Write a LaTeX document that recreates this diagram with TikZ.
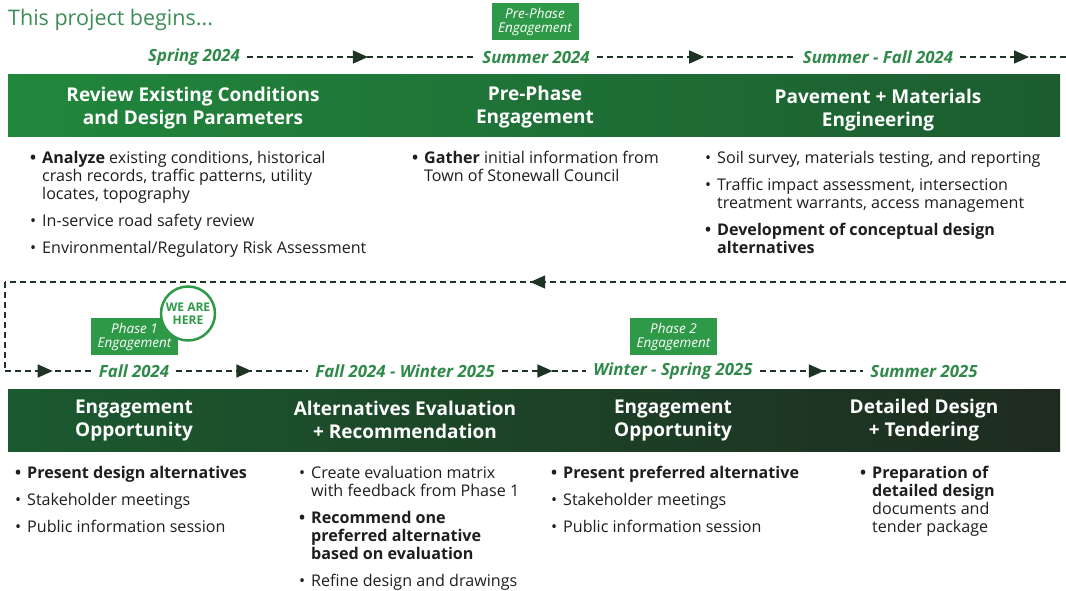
\documentclass[tikz,border=0pt]{standalone}
\usepackage{fontspec}
\setmainfont{Open Sans}
\usetikzlibrary{arrows.meta,decorations.markings}

\definecolor{tagGreen}{HTML}{2E9A48}
\definecolor{labelGreen}{HTML}{2F8A4A}
\definecolor{headGreen}{HTML}{3C8C55}
\definecolor{topL}{HTML}{21873C}
\definecolor{topR}{HTML}{1C5C30}
\definecolor{botL}{HTML}{1B5A2F}
\definecolor{botR}{HTML}{1E2B1F}
\definecolor{lineDark}{HTML}{1F3324}
\definecolor{bodyText}{HTML}{1E1E1E}

% bullets with a hanging indent
\newcommand\bu{\makebox[12pt][l]{\textbullet}}
\newcommand\bbu{\makebox[12pt][l]{\bfseries\textbullet}}
\newcommand\ind{\hspace*{12pt}}

\tikzset{
  band/.style={rectangle, inner sep=0pt, minimum width=1052pt, minimum height=62pt, draw=none},
  bandtitle/.style={align=center, text=white, inner sep=0pt,
    font=\fontsize{19}{23}\selectfont\bfseries},
  period/.style={text=labelGreen, inner xsep=7pt, inner ysep=0pt,
    font=\fontsize{16.8}{18}\selectfont\bfseries\itshape},
  tagbox/.style={fill=tagGreen, text=white, align=center, inner sep=0pt,
    minimum width=87pt, minimum height=37pt,
    font=\fontsize{13.5}{14}\selectfont\itshape},
  bodylist/.style={anchor=north west, align=left, inner sep=0pt, text=bodyText,
    font=\fontsize{16.1}{18}\selectfont},
  tl/.style={draw=lineDark, line width=1.4pt, dash pattern=on 6pt off 4pt},
  tlarrow/.style={postaction={decorate, decoration={markings,
    mark=at position #1 with {\arrow[lineDark, solid]{Triangle[length=15pt, width=13pt]}}}}}
}

\begin{document}
\begin{tikzpicture}[x=1pt, y=-1pt]
\fill[white] (0,0) rectangle (1066,591);
\useasboundingbox (0,0) rectangle (1066,591);

% heading
\node[anchor=west, inner sep=0pt, text=headGreen, font=\fontsize{21.5}{24}\selectfont]
  (head) at (8,20) {This project begins...};

% ---------- top timeline ----------
\node[tagbox] (pretag) at (535,22) {Pre-Phase\\Engagement};

\node[period] (spring)  at (194,57) {Spring 2024};
\node[period] (summer)  at (536,57) {Summer 2024};
\node[period] (sumfall) at (878,57) {Summer - Fall 2024};
\coordinate (topend) at (1066,57);

\draw[tl, tlarrow=0.53] (spring) -- (summer);
\draw[tl, tlarrow=0.54] (summer) -- (sumfall);
\draw[tl, tlarrow=0.65] (sumfall) -- (topend);

% top band
\node[band, left color=topL, right color=topR] (topband) at (534,106) {};
\node[bandtitle] (t1) at (193,108) {Review Existing Conditions\\and Design Parameters};
\node[bandtitle] (t2) at (535,107) {Pre-Phase\\Engagement};
\node[bandtitle] (t3) at (878,110) {Pavement + Materials\\Engineering};

% top lists
\node[bodylist] (l1) at (30,151) {%
  \bbu\textbf{Analyze} existing conditions, historical\\
  \ind crash records, traffic patterns, utility\\
  \ind locates, topography\\[9pt]
  \bu In-service road safety review\\[9pt]
  \bu Environmental/Regulatory Risk Assessment};
\node[bodylist] (l2) at (412,151) {%
  \bbu\textbf{Gather} initial information from\\
  \ind Town of Stonewall Council};
\node[bodylist] (l3) at (705,151) {%
  \bu Soil survey, materials testing, and reporting\\[9pt]
  \bu Traffic impact assessment, intersection\\
  \ind treatment warrants, access management\\[9pt]
  \bbu\textbf{Development of conceptual design}\\
  \ind\textbf{alternatives}};

% ---------- return path ----------
\coordinate (retR) at (1066,282);
\coordinate (retL) at (5,282);
\coordinate (retD) at (5,371);

% ---------- bottom timeline ----------
\node[tagbox] (p1tag) at (134.5,336.5) {Phase 1\\Engagement};
\node[tagbox] (p2tag) at (673.5,336.5) {Phase 2\\Engagement};
\node[circle, fill=white, draw=tagGreen, line width=2.5pt, minimum size=54pt,
  inner sep=0pt, align=center, text=tagGreen,
  font=\fontsize{12}{13.5}\selectfont\bfseries] (here) at (188,313.5) {WE ARE\\HERE};

\node[period] (fall) at (134,371) {Fall 2024};
\node[period] (fw)   at (405,371) {Fall 2024 - Winter 2025};
\node[period] (ws)   at (673,371) {Winter - Spring 2025};
\node[period] (su)   at (924,371) {Summer 2025};

\draw[tl, tlarrow=0.505] (retR) -- (retL);
\draw[tl] (retL) -- (retD);
\draw[tl, tlarrow=0.55] (retD) -- (fall);
\draw[tl, tlarrow=0.57] (fall) -- (fw);
\draw[tl, tlarrow=0.6] (fw) -- (ws);
\draw[tl, tlarrow=0.62] (ws) -- (su);

% bottom band
\node[band, left color=botL, right color=botR] (botband) at (534,420) {};
\node[bandtitle] (b1) at (134,420) {Engagement\\Opportunity};
\node[bandtitle] (b2) at (405,420) {Alternatives Evaluation\\+ Recommendation};
\node[bandtitle] (b3) at (673,420) {Engagement\\Opportunity};
\node[bandtitle] (b4) at (924,420) {Detailed Design\\+ Tendering};

% bottom lists
\node[bodylist] (m1) at (15,466) {%
  \bbu\textbf{Present design alternatives}\\[9pt]
  \bu Stakeholder meetings\\[9pt]
  \bu Public information session};
\node[bodylist] (m2) at (299,466) {%
  \bu Create evaluation matrix\\
  \ind with feedback from Phase 1\\[9pt]
  \bbu\textbf{Recommend one}\\
  \ind\textbf{preferred alternative}\\
  \ind\textbf{based on evaluation}\\[9pt]
  \bu Refine design and drawings};
\node[bodylist] (m3) at (551,466) {%
  \bbu\textbf{Present preferred alternative}\\[9pt]
  \bu Stakeholder meetings\\[9pt]
  \bu Public information session};
\node[bodylist] (m4) at (860,466) {%
  \bbu\textbf{Preparation of}\\
  \ind\textbf{detailed design}\\
  \ind documents and\\
  \ind tender package};
\end{tikzpicture}
\end{document}
